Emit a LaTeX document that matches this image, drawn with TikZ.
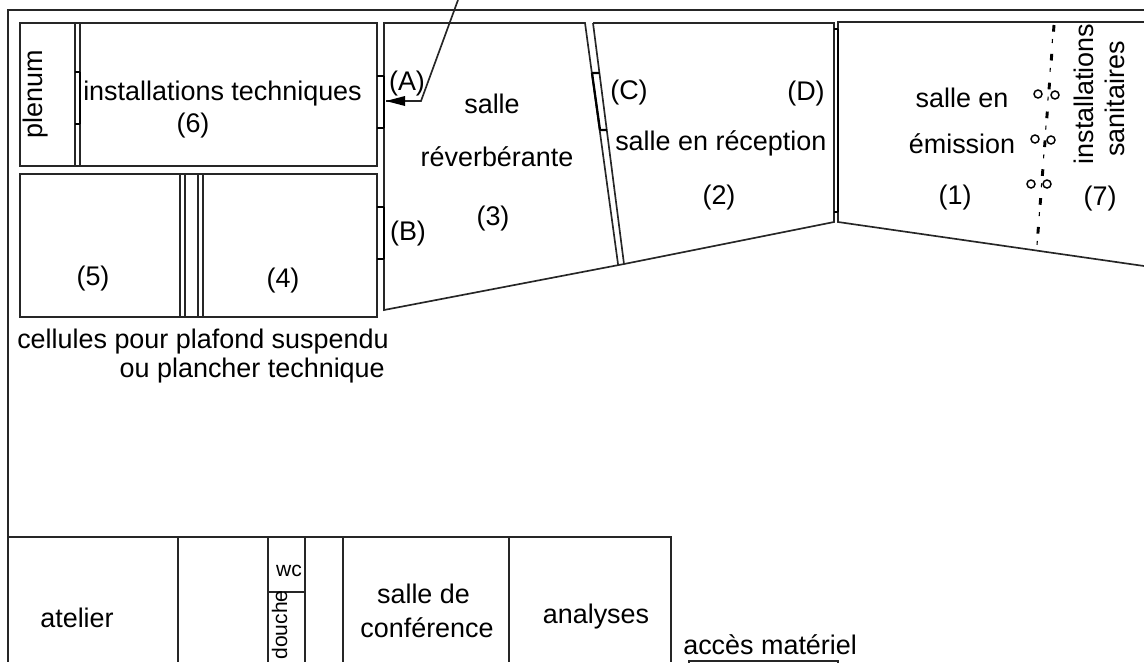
\documentclass[tikz,border=0pt]{standalone}
\usepackage{fontspec}
\setmainfont{Liberation Sans}
\begin{document}
\begin{tikzpicture}[x=0.75pt,y=-0.75pt,
  wall/.style={draw=black!85,line width=1.25pt},
  thin wall/.style={draw=black!85,line width=1pt},
  door/.style={draw=black,line width=1.7pt},
  lab/.style={inner sep=0pt,anchor=base,font=\fontsize{20.2}{20.2}\selectfont},
  small lab/.style={inner sep=0pt,anchor=base,font=\fontsize{15.8}{15.8}\selectfont},
  ring/.style={circle,draw=black,line width=1.1pt,minimum size=6pt,inner sep=0pt}]
\useasboundingbox (0,0) rectangle (1144,662);
\clip (0,0) rectangle (1144,662);
% outer frame
\draw[wall] (1144,10) -- (8,10) -- (8,662);
\draw[wall] (8,537) -- (671,537) -- (671,662);
\foreach \x in {178,268,305,343,509} \draw[wall] (\x,537) -- (\x,662);
\draw[thin wall] (268,592) -- (305,592);
% technical rooms
\draw[wall] (20,23) rectangle (377,166);
\draw[wall] (20,174) rectangle (377,317);
\draw[wall] (75,23) -- (75,166) (80,23) -- (80,166);
\draw[door] (75,72) -- (80,72) (75,124) -- (80,124) (80,72) -- (80,124);
\draw[wall] (180,174) -- (180,317) (185,174) -- (185,317) (198,174) -- (198,317) (203,174) -- (203,317);
% rooms
\draw[wall] (624,264) -- (384,310) -- (384,23) -- (585,23) -- (618,264);
\draw[wall] (593,23) -- (624,264);
\draw[wall] (624,264) -- (834,222) -- (834,23) -- (593,23);
\draw[wall] (1144,22) -- (838,22) -- (838,222) -- (1144,266);
% doors
\draw[door] (377,76) -- (384,76) (377,128) -- (384,128) (384,76) -- (384,128);
\draw[door] (377,207) -- (384,207) (377,259) -- (384,259) (384,207) -- (384,259);
\draw[door] (592,73) -- (599.5,73) (599.5,130) -- (607,130) (592,73) -- (600,130);
\draw[door] (834,29) -- (838,29) (834,212) -- (838,212) (838,29) -- (838,212);
% arrow
\coordinate (arrowtop) at (458,0);
\coordinate (arrowbend) at (421,101);
\coordinate (arrowend) at (386,101);
\draw[wall] (arrowtop) -- (arrowbend) -- (arrowend);
\fill[black] (arrowend) -- (405,96) -- (405,106) -- cycle;
% dash-dot axis
\draw[line width=2.2pt,dash pattern=on 5pt off 16.7pt] (1054,25) -- (1037,245);
\draw[line width=0.8pt,dash pattern=on 3pt off 18.7pt] (1052.5,39) -- (1037,245);
\node[ring] (r1) at (1038,94) {}; \node[ring] (r2) at (1055,95) {};
\node[ring] (r3) at (1035,139) {}; \node[ring] (r4) at (1051,140) {};
\node[ring] (r5) at (1031,184) {}; \node[ring] (r6) at (1047,184) {};
% labels
\node[lab,rotate=90] (plenum) at (42,94) {plenum};
\node[lab,anchor=base west] (inst) at (83,100) {installations techniques};
\node[lab] (six) at (193,132) {(6)};
\node[lab] (five) at (93,285) {(5)};
\node[lab] (four) at (283,287) {(4)};
\node[lab] (A) at (407,90) {(A)};
\node[lab] (B) at (408,240) {(B)};
\node[lab] (C) at (629,99) {(C)};
\node[lab] (D) at (806,100) {(D)};
\node[lab] (salle) at (492,113) {salle};
\node[lab] (rev) at (497,166) {réverbérante};
\node[lab] (three) at (493,225) {(3)};
\node[lab,anchor=base west] (recep) at (615,150) {salle en réception};
\node[lab] (two) at (719,204) {(2)};
\node[lab] (em1) at (962,107) {salle en};
\node[lab] (em2) at (962,153) {émission};
\node[lab] (one) at (955,204) {(1)};
\node[lab] (seven) at (1100,205) {(7)};
\node[lab,rotate=90] (san1) at (1093,94) {installations};
\node[lab,rotate=90] (san2) at (1124,99) {sanitaires};
\node[lab,anchor=base west] (cel1) at (17,348) {cellules pour plafond suspendu};
\node[lab,anchor=base east] (cel2) at (385,377) {ou plancher technique};
\node[lab] (atelier) at (77,627) {atelier};
\node[small lab] (wc) at (289,576) {wc};
\node[small lab,rotate=90] (douche) at (287,625) {douche};
\node[lab] (sd1) at (423.5,603) {salle de};
\node[lab] (sd2) at (427,637) {conférence};
\node[lab] (ana) at (596,623) {analyses};
\node[lab,anchor=base west] (acces) at (683,654) {accès matériel};
\draw[wall] (689,663) -- (689,661) -- (838,661) -- (838,663);
\end{tikzpicture}
\end{document}
